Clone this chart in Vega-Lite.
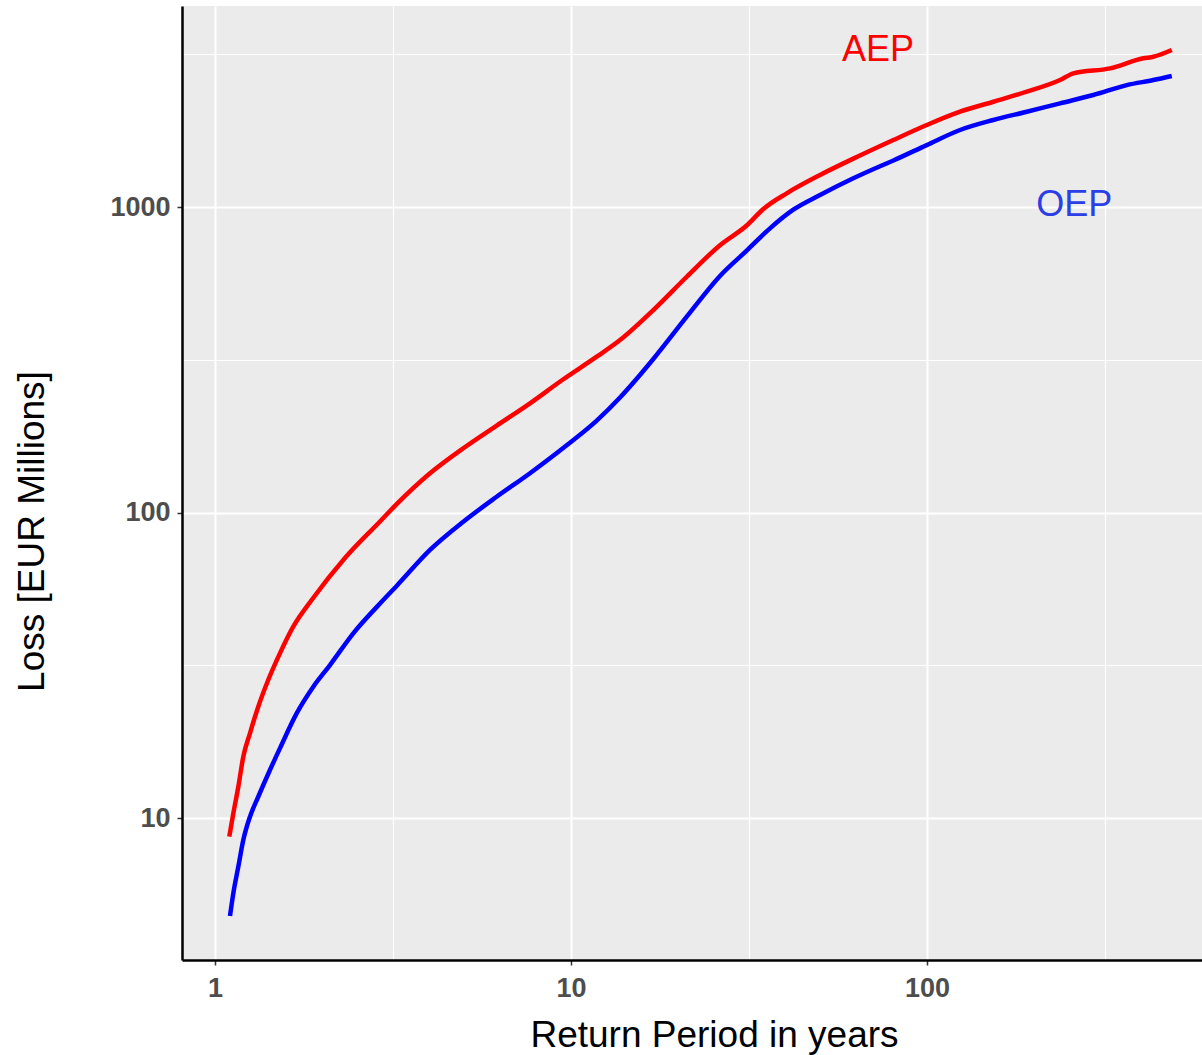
{
  "$schema": "https://vega.github.io/schema/vega-lite/v6.json",
  "width": 1020,
  "height": 954,
  "autosize": {"type": "none"},
  "padding": {"left": 182, "top": 6, "right": 0, "bottom": 95},
  "background": "white",
  "config": {
    "view": {"fill": "#EBEBEB", "stroke": null},
    "font": "Liberation Sans"
  },
  "datasets": {
    "curves": [
      {"series": "AEP", "rp": 1.097, "loss": 8.69},
      {"series": "AEP", "rp": 1.126, "loss": 10.36},
      {"series": "AEP", "rp": 1.163, "loss": 12.66},
      {"series": "AEP", "rp": 1.201, "loss": 15.87},
      {"series": "AEP", "rp": 1.254, "loss": 18.94},
      {"series": "AEP", "rp": 1.323, "loss": 23.14},
      {"series": "AEP", "rp": 1.411, "loss": 28.3},
      {"series": "AEP", "rp": 1.522, "loss": 34.6},
      {"series": "AEP", "rp": 1.659, "loss": 42.29},
      {"series": "AEP", "rp": 1.869, "loss": 51.71},
      {"series": "AEP", "rp": 2.318, "loss": 71.0},
      {"series": "AEP", "rp": 2.908, "loss": 93.5},
      {"series": "AEP", "rp": 3.238, "loss": 106.5},
      {"series": "AEP", "rp": 4.018, "loss": 134.4},
      {"series": "AEP", "rp": 4.983, "loss": 162.3},
      {"series": "AEP", "rp": 6.183, "loss": 192.5},
      {"series": "AEP", "rp": 7.671, "loss": 227.8},
      {"series": "AEP", "rp": 9.515, "loss": 273.0},
      {"series": "AEP", "rp": 11.81, "loss": 323.6},
      {"series": "AEP", "rp": 13.73, "loss": 366.9},
      {"series": "AEP", "rp": 17.03, "loss": 460.0},
      {"series": "AEP", "rp": 21.14, "loss": 591.3},
      {"series": "AEP", "rp": 26.21, "loss": 750},
      {"series": "AEP", "rp": 31.15, "loss": 870},
      {"series": "AEP", "rp": 34.69, "loss": 985},
      {"series": "AEP", "rp": 40.36, "loss": 1109},
      {"series": "AEP", "rp": 50.06, "loss": 1273},
      {"series": "AEP", "rp": 62.09, "loss": 1440},
      {"series": "AEP", "rp": 80.43, "loss": 1657},
      {"series": "AEP", "rp": 99.8, "loss": 1855},
      {"series": "AEP", "rp": 123.8, "loss": 2051},
      {"series": "AEP", "rp": 153.6, "loss": 2211},
      {"series": "AEP", "rp": 190.6, "loss": 2385},
      {"series": "AEP", "rp": 236.4, "loss": 2604},
      {"series": "AEP", "rp": 257.6, "loss": 2739},
      {"series": "AEP", "rp": 326.6, "loss": 2844},
      {"series": "AEP", "rp": 405.1, "loss": 3067},
      {"series": "AEP", "rp": 432.3, "loss": 3104},
      {"series": "AEP", "rp": 486.9, "loss": 3265},
      {"series": "OEP", "rp": 1.102, "loss": 4.78},
      {"series": "OEP", "rp": 1.126, "loss": 5.67},
      {"series": "OEP", "rp": 1.163, "loss": 6.93},
      {"series": "OEP", "rp": 1.201, "loss": 8.47},
      {"series": "OEP", "rp": 1.254, "loss": 10.1},
      {"series": "OEP", "rp": 1.323, "loss": 11.74},
      {"series": "OEP", "rp": 1.427, "loss": 14.36},
      {"series": "OEP", "rp": 1.522, "loss": 16.91},
      {"series": "OEP", "rp": 1.696, "loss": 22.01},
      {"series": "OEP", "rp": 1.889, "loss": 26.91},
      {"series": "OEP", "rp": 2.104, "loss": 31.68},
      {"series": "OEP", "rp": 2.446, "loss": 40.24},
      {"series": "OEP", "rp": 2.97, "loss": 51.71},
      {"series": "OEP", "rp": 3.238, "loss": 57.5},
      {"series": "OEP", "rp": 4.018, "loss": 75.42},
      {"series": "OEP", "rp": 4.983, "loss": 93.3},
      {"series": "OEP", "rp": 6.183, "loss": 112.6},
      {"series": "OEP", "rp": 7.671, "loss": 134.5},
      {"series": "OEP", "rp": 9.725, "loss": 166},
      {"series": "OEP", "rp": 11.81, "loss": 200},
      {"series": "OEP", "rp": 13.73, "loss": 238},
      {"series": "OEP", "rp": 15.62, "loss": 282},
      {"series": "OEP", "rp": 17.03, "loss": 318},
      {"series": "OEP", "rp": 21.14, "loss": 437.5},
      {"series": "OEP", "rp": 26.21, "loss": 595},
      {"series": "OEP", "rp": 31.15, "loss": 720.0},
      {"series": "OEP", "rp": 36.22, "loss": 851.7},
      {"series": "OEP", "rp": 42.11, "loss": 980},
      {"series": "OEP", "rp": 50.06, "loss": 1095},
      {"series": "OEP", "rp": 62.09, "loss": 1242},
      {"series": "OEP", "rp": 73.79, "loss": 1360},
      {"series": "OEP", "rp": 80.43, "loss": 1420},
      {"series": "OEP", "rp": 99.8, "loss": 1595},
      {"series": "OEP", "rp": 123.8, "loss": 1787},
      {"series": "OEP", "rp": 153.6, "loss": 1927},
      {"series": "OEP", "rp": 190.6, "loss": 2051},
      {"series": "OEP", "rp": 236.4, "loss": 2185},
      {"series": "OEP", "rp": 293.2, "loss": 2326},
      {"series": "OEP", "rp": 363.9, "loss": 2507},
      {"series": "OEP", "rp": 432.3, "loss": 2604},
      {"series": "OEP", "rp": 486.9, "loss": 2684}
    ],
    "labels": [
      {"label": "AEP", "rp": 72.8, "loss": 3266},
      {"label": "OEP", "rp": 259, "loss": 1015}
    ]
  },
  "encoding": {
    "x": {
      "field": "rp",
      "type": "quantitative",
      "scale": {"type": "log", "domain": [0.808, 592], "nice": false, "zero": false},
      "axis": {
        "values": [1, 3.1623, 10, 31.623, 100, 316.23],
        "labelExpr": "abs(log(datum.value)/LN10 - round(log(datum.value)/LN10)) < 0.01 ? format(datum.value, 'd') : ''",
        "grid": true,
        "gridColor": "white",
        "gridWidth": {"condition": {"test": "abs(log(datum.value)/LN10 - round(log(datum.value)/LN10)) < 0.01", "value": 2}, "value": 1.2},
        "tickOpacity": {"condition": {"test": "abs(log(datum.value)/LN10 - round(log(datum.value)/LN10)) < 0.01", "value": 1}, "value": 0},
        "domainColor": "black",
        "domainWidth": 2.5,
        "tickColor": "#333333",
        "tickWidth": 1.5,
        "tickSize": 5,
        "labelFont": "Liberation Sans",
        "labelFontWeight": "bold",
        "labelFontSize": 27,
        "labelColor": "#4D4D4D",
        "labelPadding": 10,
        "labelFlush": false,
        "labelOverlap": false,
        "title": "Return Period in years",
        "titleFont": "Liberation Sans",
        "titleFontSize": 37,
        "titleFontWeight": "normal",
        "titleColor": "black",
        "titlePadding": 16,
        "titleX": 532
      }
    },
    "y": {
      "field": "loss",
      "type": "quantitative",
      "scale": {"type": "log", "domain": [3.43, 4550], "nice": false, "zero": false},
      "axis": {
        "values": [10, 31.623, 100, 316.23, 1000, 3162.3],
        "labelExpr": "abs(log(datum.value)/LN10 - round(log(datum.value)/LN10)) < 0.01 ? format(datum.value, 'd') : ''",
        "grid": true,
        "gridColor": "white",
        "gridWidth": {"condition": {"test": "abs(log(datum.value)/LN10 - round(log(datum.value)/LN10)) < 0.01", "value": 2}, "value": 1.2},
        "tickOpacity": {"condition": {"test": "abs(log(datum.value)/LN10 - round(log(datum.value)/LN10)) < 0.01", "value": 1}, "value": 0},
        "domainColor": "black",
        "domainWidth": 2.5,
        "tickColor": "#333333",
        "tickWidth": 1.5,
        "tickSize": 5,
        "labelFont": "Liberation Sans",
        "labelFontWeight": "bold",
        "labelFontSize": 27,
        "labelColor": "#4D4D4D",
        "labelPadding": 7,
        "labelFlush": false,
        "labelOverlap": false,
        "title": "Loss [EUR Millions]",
        "titleFont": "Liberation Sans",
        "titleFontSize": 37,
        "titleFontWeight": "normal",
        "titleColor": "black",
        "titlePadding": 58,
        "titleY": 525
      }
    }
  },
  "layer": [
    {
      "data": {"name": "curves"},
      "mark": {"type": "line", "strokeWidth": 4.5, "interpolate": "monotone", "clip": true},
      "encoding": {
        "color": {
          "field": "series",
          "type": "nominal",
          "scale": {"domain": ["AEP", "OEP"], "range": ["#FF0000", "#0000FF"]},
          "legend": null
        }
      }
    },
    {
      "data": {"name": "labels"},
      "mark": {"type": "text", "fontSize": 36, "align": "center", "baseline": "middle", "font": "Liberation Sans"},
      "encoding": {
        "text": {"field": "label"},
        "color": {"condition": {"test": "datum.label == 'AEP'", "value": "#FF0000"}, "value": "#2B3FE6"}
      }
    }
  ]
}
